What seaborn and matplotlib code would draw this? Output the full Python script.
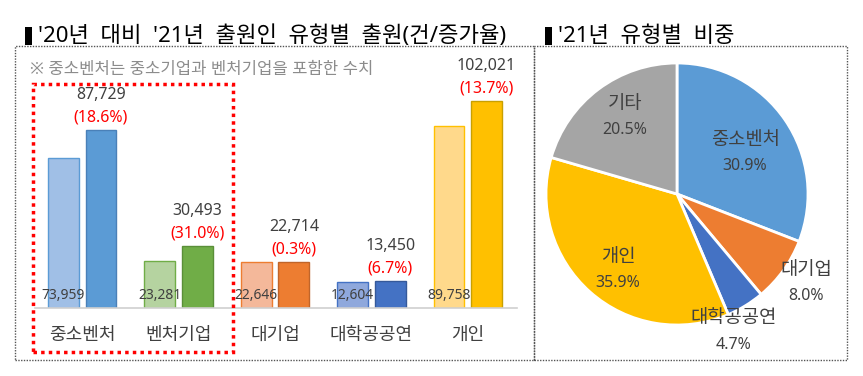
import seaborn as sns
import numpy as np
import pandas as pd
import matplotlib.pyplot as plt
from matplotlib.patches import Rectangle

# data
categories = ['중소벤처', '벤처기업', '대기업', '대학공공연', '개인']
apps_2020 = [73959, 23281, 22646, 12604, 89758]
apps_2021 = [87729, 30493, 22714, 13450, 102021]
growth = [18.6, 31.0, 0.3, 6.7, 13.7]

pie_labels = ['중소벤처', '대기업', '대학공공연', '개인', '기타']
pie_shares = [30.9, 8.0, 4.7, 35.9, 20.5]

# colours
light = ['#A0BFE6', '#B5D3A0', '#F4B89A', '#8FA8DC', '#FFD98B']
dark = ['#5B9BD5', '#70AD47', '#ED7D31', '#4472C4', '#FFC000']
dark_edge = ['#4A80B8', '#5A8F38', '#C0652A', '#35599A', '#C9A000']
pie_colors = ['#5B9BD5', '#ED7D31', '#4472C4', '#FFC000', '#A5A5A5']

sns.set_style('white')
plt.rcParams['font.family'] = ['Noto Sans', 'Noto Sans CJK KR', 'DejaVu Sans']

W, H = 863, 376
fig = plt.figure(figsize=(W / 100, H / 100), dpi=100)


def box(x0, y0, x1, y1):
    # pixel box (top-left origin) -> figure fraction
    return [x0 / W, 1 - y1 / H, (x1 - x0) / W, (y1 - y0) / H]


def fig_rect(x0, y0, x1, y1, **kw):
    fig.patches.append(Rectangle((x0 / W, 1 - y1 / H), (x1 - x0) / W, (y1 - y0) / H,
                                 transform=fig.transFigure, **kw))


# panel frames
for x0, y0, x1, y1 in [(15, 46, 534, 360), (534, 46, 847, 360)]:
    fig_rect(x0, y0, x1, y1, fill=False, edgecolor='#555555',
             linestyle=(0, (1, 1)), lw=1)

# titles with black marker blocks
fig_rect(25, 27, 32, 45, facecolor='black', edgecolor='none')
fig_rect(545, 27, 552, 45, facecolor='black', edgecolor='none')
fig.text(38 / W, 1 - 36 / H, "'20년  대비  '21년  출원인  유형별  출원(건/증가율)",
         fontsize=16, va='center', ha='left', color='black')
fig.text(558 / W, 1 - 36 / H, "'21년  유형별  비중",
         fontsize=16, va='center', ha='left', color='black')

# ---- bar chart ----
df = pd.DataFrame({
    'cat': categories * 2,
    'year': ['2020'] * 5 + ['2021'] * 5,
    'value': apps_2020 + apps_2021,
})

ax = fig.add_axes(box(35, 60, 517, 308))
sns.barplot(data=df, x='cat', y='value', hue='year', ax=ax,
            width=0.78, gap=0.18, legend=False)

for i, p in enumerate(ax.containers[0]):
    p.set_facecolor(light[i])
    p.set_edgecolor(dark[i])
    p.set_linewidth(1)
for i, p in enumerate(ax.containers[1]):
    p.set_facecolor(dark[i])
    p.set_edgecolor(dark_edge[i])
    p.set_linewidth(1)

ax.set_xlim(-0.49, 4.51)
ax.set_ylim(0, 248 * 87729 / 178)
ax.set_xlabel('')
ax.set_ylabel('')
ax.set_yticks([])
ax.tick_params(axis='x', length=0, pad=13, labelsize=13, labelcolor='#404040')
for s in ['top', 'left', 'right']:
    ax.spines[s].set_visible(False)
ax.spines['bottom'].set_color('#D0D0D0')
ax.spines['bottom'].set_linewidth(1.2)

for i, p in enumerate(ax.containers[0]):
    cx = p.get_x() + p.get_width() / 2
    ax.annotate(f'{apps_2020[i]:,}', (cx, 0), xytext=(0, 9), textcoords='offset points',
                ha='center', va='center', fontsize=10, color='#404040')
for i, p in enumerate(ax.containers[1]):
    cx = p.get_x() + p.get_width() / 2
    top = p.get_height()
    ax.annotate(f'({growth[i]:.1f}%)', (cx, top), xytext=(0, 9), textcoords='offset points',
                ha='center', va='center', fontsize=11.5, color='#FF0000')
    ax.annotate(f'{apps_2021[i]:,}', (cx, top), xytext=(0, 25), textcoords='offset points',
                ha='center', va='center', fontsize=11.5, color='#404040')

fig.text(30 / W, 1 - 70 / H, '※ 중소벤처는 중소기업과 벤처기업을 포함한 수치',
         fontsize=12, color='#8C8C8C', va='center', ha='left')

# red dotted highlight box
fig_rect(33, 84, 233, 352, fill=False, edgecolor='#FF0000',
         linestyle=(0, (1, 1.2)), lw=2.5)

# ---- pie chart ----
pax = fig.add_axes(box(677 - 131, 194 - 131, 677 + 131, 194 + 131))
wedges, _ = pax.pie(pie_shares, colors=pie_colors, startangle=90, counterclock=False,
                    wedgeprops=dict(edgecolor='white', linewidth=2))
pax.set_xlim(-1, 1)
pax.set_ylim(-1, 1)
pax.set_aspect('equal')

label_pos = [(0.52, 0.31), (0.985, -0.68), (0.43, -1.05), (-0.45, -0.58), (-0.40, 0.59)]
for (lx, ly), name, share in zip(label_pos, pie_labels, pie_shares):
    pax.text(lx, ly + 0.1, name, ha='center', va='center', fontsize=13.5, color='#404040')
    pax.text(lx, ly - 0.1, f'{share:.1f}%', ha='center', va='center', fontsize=11.5,
             color='#404040')

fig.savefig('out.png', dpi=100)
